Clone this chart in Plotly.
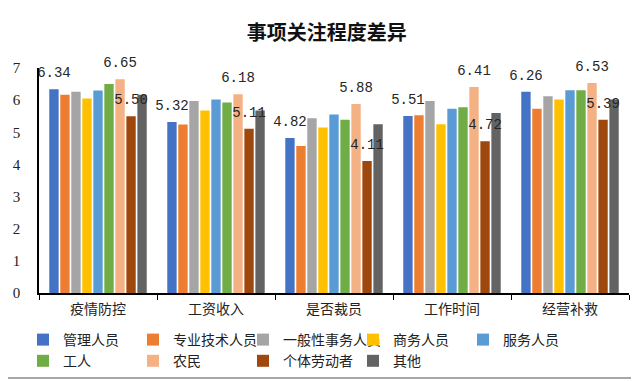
import plotly.graph_objects as go

categories = ["疫情防控", "工资收入", "是否裁员", "工作时间", "经营补救"]
series_names = ["管理人员", "专业技术人员", "一般性事务人员", "商务人员", "服务人员",
                "工人", "农民", "个体劳动者", "其他"]
guanli = [6.34, 5.32, 4.82, 5.51, 6.26]
zhuanye = [6.17, 5.24, 4.57, 5.53, 5.73]
yiban = [6.26, 5.97, 5.44, 5.97, 6.12]
shangwu = [6.05, 5.68, 5.15, 5.25, 6.02]
fuwu = [6.30, 6.02, 5.55, 5.73, 6.31]
gongren = [6.50, 5.93, 5.39, 5.78, 6.31]
nongmin = [6.65, 6.18, 5.88, 6.41, 6.53]
geti = [5.50, 5.11, 4.11, 4.72, 5.39]
qita = [6.17, 5.68, 5.25, 5.60, 6.02]
series_values = [guanli, zhuanye, yiban, shangwu, fuwu, gongren, nongmin, geti, qita]
labeled = {"管理人员", "农民", "个体劳动者"}
yticks = [0, 1, 2, 3, 4, 5, 6, 7]

colors = ["#4472C4", "#ED7D31", "#A5A5A5", "#FFC000", "#5B9BD5",
          "#70AD47", "#F4B183", "#9E480E", "#636363"]

CJK = "Noto Sans CJK SC"
# page body has an 8px margin, so the figure is sized/positioned to compensate
OFF = 8
W, H = 639 - OFF, 381 - OFF
L, R, T, B = 39 - OFF, 10, 68 - OFF, 88
PW, PH = W - L - R, H - T - B
BOT = H - B  # plot bottom in figure px

fig = go.Figure()
for name, vals, col in zip(series_names, series_values, colors):
    fig.add_trace(go.Bar(
        name=name, x=categories, y=vals, marker_color=col, marker_line_width=0,
        hoverinfo="x+y+name",
    ))
# value labels drawn above all bars, aligned with each bar slot
for name, vals in zip(series_names, series_values):
    show = name in labeled
    fig.add_trace(go.Scatter(
        x=categories, y=vals, mode="markers+text", showlegend=False, hoverinfo="skip",
        marker=dict(size=12, color="rgba(0,0,0,0)"),
        text=[f"{v:.2f}" for v in vals] if show else [""] * len(vals),
        textposition="top center",
        textfont=dict(family="Liberation Mono", size=14, color="#262626"),
        cliponaxis=False,
    ))

fig.update_layout(
    width=W, height=H,
    margin=dict(l=L, r=R, t=T, b=B, autoexpand=False),
    paper_bgcolor="white", plot_bgcolor="white",
    barmode="group", bargap=0.16, bargroupgap=0.15,
    scattermode="group", scattergap=0.16,
    title=dict(text="<b>事项关注程度差异</b>", x=0.505, xanchor="center",
               y=1 - (33 - OFF) / H, yanchor="middle",
               font=dict(family=CJK, size=20, color="#111")),
    showlegend=True,
    legend=dict(orientation="h", x=(15 - L) / PW, xanchor="left",
                y=-(316 - BOT) / PH, yanchor="top",
                bgcolor="rgba(0,0,0,0)",
                entrywidth=65, entrywidthmode="pixels", itemwidth=30,
                tracegroupgap=0, traceorder="normal",
                font=dict(family=CJK, size=14, color="#222")),
)
fig.update_xaxes(showline=True, linecolor="black", linewidth=1.5, automargin=False,
                 ticks="outside", tickson="boundaries", ticklen=5, tickcolor="black",
                 ticklabelstandoff=2,
                 tickfont=dict(family=CJK, size=14, color="#222"), showgrid=False)
fig.update_yaxes(range=[0, 7], tickvals=yticks, showline=True, linecolor="black",
                 linewidth=1.5, showgrid=False, zeroline=False, ticks="",
                 ticklabelstandoff=14, automargin=False,
                 tickfont=dict(family="Liberation Serif", size=15, color="#222"))

# outer frame (light gray bottom/right edges)
yb = -((378 - OFF) - BOT) / PH
xr = ((634 - OFF) - L) / PW
fig.add_shape(type="line", xref="paper", yref="paper",
              x0=-L / PW, x1=xr, y0=yb, y1=yb,
              line=dict(color="#a8a8a8", width=2))
fig.add_shape(type="line", xref="paper", yref="paper",
              x0=xr, x1=xr, y0=yb, y1=1 + T / PH,
              line=dict(color="#a8a8a8", width=2))

fig.write_html("out.html")
